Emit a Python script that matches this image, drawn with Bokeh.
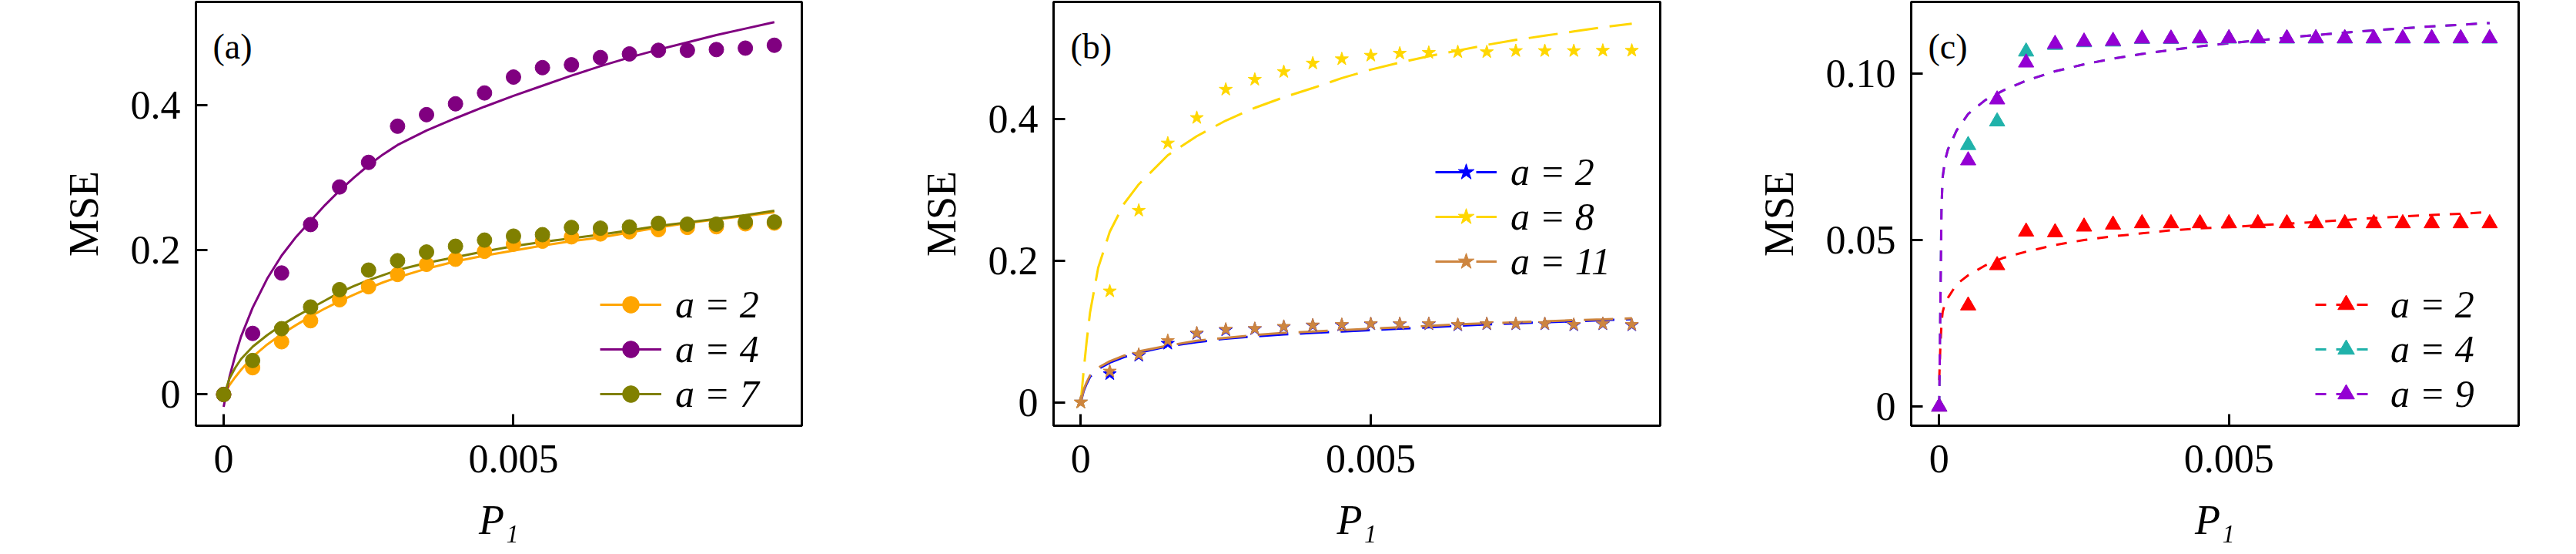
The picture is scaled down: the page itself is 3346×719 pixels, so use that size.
from bokeh.plotting import figure
from bokeh.layouts import row
from bokeh.models import Range1d, FixedTicker, Legend, LegendItem, Label
from bokeh.embed import file_html
from bokeh.resources import INLINE

SERIF = "Liberation Serif"

# ---------------- data ----------------
P1 = [0, 0.0005, 0.001, 0.0015, 0.002, 0.0025, 0.003, 0.0035, 0.004, 0.0045,
      0.005, 0.0055, 0.006, 0.0065, 0.007, 0.0075, 0.008, 0.0085, 0.009, 0.0095]

# panel (a) simulated points
a_mse_a2 = [0, 0.037, 0.0729, 0.102, 0.131, 0.149, 0.166, 0.180, 0.187, 0.198,
            0.208, 0.212, 0.218, 0.222, 0.225, 0.228, 0.231, 0.232, 0.236, 0.237]
a_mse_a4 = [0, 0.0845, 0.168, 0.235, 0.287, 0.321, 0.371, 0.387, 0.402, 0.417,
            0.439, 0.452, 0.456, 0.466, 0.471, 0.476, 0.476, 0.477, 0.479, 0.483]
a_mse_a7 = [0, 0.047, 0.091, 0.121, 0.145, 0.172, 0.185, 0.197, 0.205, 0.2135,
            0.219, 0.221, 0.231, 0.230, 0.2317, 0.2367, 0.2355, 0.2355, 0.2386, 0.2386]
# panel (a) fitted curves
a_fit_x = [0, 0.0001, 0.0002, 0.0003, 0.0005, 0.00075, 0.001, 0.00125, 0.0015, 0.00175,
           0.002, 0.00225, 0.0025, 0.00275, 0.003, 0.0035, 0.004, 0.0045, 0.005, 0.0055,
           0.006, 0.0065, 0.007, 0.0075, 0.008, 0.0085, 0.009, 0.0095]
a_fit_a2 = [-0.003, 0.013, 0.024, 0.034, 0.052, 0.069, 0.0835, 0.096, 0.108, 0.119,
            0.129, 0.138, 0.147, 0.155, 0.162, 0.174, 0.184, 0.192, 0.199, 0.206,
            0.212, 0.217, 0.224, 0.231, 0.237, 0.242, 0.247, 0.252]
a_fit_a4 = [-0.017, 0.024, 0.054, 0.080, 0.120, 0.160, 0.192, 0.218, 0.240, 0.262,
            0.282, 0.300, 0.317, 0.332, 0.345, 0.365, 0.382, 0.398, 0.413, 0.427,
            0.441, 0.454, 0.466, 0.477, 0.487, 0.497, 0.506, 0.515]
a_fit_a7 = [-0.003, 0.022, 0.037, 0.049, 0.066, 0.082, 0.096, 0.108, 0.119, 0.130,
            0.141, 0.150, 0.158, 0.165, 0.172, 0.182, 0.190, 0.198, 0.205, 0.211,
            0.216, 0.221, 0.227, 0.233, 0.238, 0.243, 0.248, 0.254]

# panel (b) simulated points
b_mse_a2 = [0, 0.040, 0.066, 0.083, 0.097, 0.102, 0.1035, 0.1065, 0.1085, 0.109,
            0.1105, 0.1105, 0.1105, 0.109, 0.1105, 0.1105, 0.1105, 0.109, 0.1105, 0.109]
b_mse_a8 = [0, 0.157, 0.271, 0.366, 0.402, 0.442, 0.456, 0.467, 0.479, 0.485,
            0.490, 0.493, 0.494, 0.495, 0.495, 0.4966, 0.4966, 0.4966, 0.497, 0.497]
b_mse_a11 = [0, 0.0438, 0.0675, 0.087, 0.0978, 0.103, 0.104, 0.107, 0.109, 0.1097,
             0.111, 0.111, 0.111, 0.1097, 0.111, 0.111, 0.111, 0.1097, 0.111, 0.1097]
# panel (b) fitted curves
b_fit_x = [0, 0.00005, 0.0001, 0.00016, 0.0003, 0.0005, 0.00075, 0.001, 0.0015, 0.002,
           0.0025, 0.003, 0.0035, 0.004, 0.0045, 0.005, 0.0055, 0.006, 0.0065, 0.007,
           0.0075, 0.008, 0.0085, 0.009, 0.0095]
b_fit_a2 = [0, 0.016, 0.026, 0.036, 0.047, 0.056, 0.064, 0.070, 0.079, 0.085,
            0.090, 0.093, 0.096, 0.098, 0.100, 0.102, 0.104, 0.106, 0.108, 0.110,
            0.1115, 0.113, 0.1145, 0.116, 0.1175]
b_fit_a8 = [0, 0.045, 0.085, 0.127, 0.190, 0.241, 0.281, 0.308, 0.349, 0.376,
            0.398, 0.416, 0.431, 0.444, 0.458, 0.470, 0.480, 0.489, 0.497, 0.505,
            0.512, 0.518, 0.524, 0.530, 0.535]
b_fit_a11 = [0, 0.018, 0.028, 0.038, 0.049, 0.058, 0.066, 0.072, 0.080, 0.087,
             0.091, 0.095, 0.098, 0.100, 0.102, 0.104, 0.106, 0.108, 0.110, 0.1116,
             0.113, 0.1145, 0.116, 0.1172, 0.1187]

# panel (c) simulated points
c_mse_a2 = [0, 0.0304, 0.0425, 0.0526, 0.0524, 0.0541, 0.0547, 0.0551, 0.0551, 0.0551,
            0.0551, 0.0551, 0.0551, 0.0551, 0.0551, 0.0551, 0.0551, 0.0551, 0.0551, 0.0551]
c_mse_a4 = [0, 0.0786, 0.0857, 0.1067, 0.1087, 0.1095, 0.1097, 0.1105, 0.1105, 0.1106,
            0.1106, 0.1106, 0.1106, 0.1106, 0.1106, 0.1106, 0.1106, 0.1106, 0.1106, 0.1106]
c_mse_a9 = [0, 0.074, 0.0923, 0.1034, 0.109, 0.1097, 0.1099, 0.1106, 0.1106, 0.1107,
            0.1107, 0.1107, 0.1107, 0.1107, 0.1107, 0.1107, 0.1107, 0.1107, 0.1107, 0.1107]
# panel (c) fitted curves
c_fit_x = [0, 0.00002, 0.00004, 0.00006, 0.0001, 0.00015, 0.0003, 0.0005, 0.0008, 0.0011,
           0.0015, 0.002, 0.0025, 0.003, 0.0035, 0.004, 0.0045, 0.005, 0.0055, 0.006,
           0.0065, 0.007, 0.0075, 0.008, 0.0085, 0.009, 0.0095]
c_fit_a2 = [0.008, 0.018, 0.025, 0.0285, 0.031, 0.0327, 0.0368, 0.0395, 0.0425, 0.0447,
            0.0466, 0.0486, 0.0501, 0.0512, 0.0521, 0.0530, 0.0536, 0.0540, 0.0545, 0.0550,
            0.0555, 0.0561, 0.0567, 0.0572, 0.0576, 0.0580, 0.0585]
c_fit_a4 = [0.0, 0.030, 0.060, 0.069, 0.074, 0.0773, 0.083, 0.088, 0.0922, 0.095,
            0.098, 0.1008, 0.1029, 0.1046, 0.106, 0.1072, 0.1083, 0.1092, 0.1101, 0.1109,
            0.1117, 0.1124, 0.1131, 0.1137, 0.1143, 0.1148, 0.1153]
c_fit_a9 = [0.0, 0.030, 0.060, 0.069, 0.074, 0.0773, 0.083, 0.088, 0.0922, 0.095,
            0.098, 0.1008, 0.1029, 0.1046, 0.106, 0.1072, 0.1083, 0.1092, 0.1101, 0.1109,
            0.1117, 0.1124, 0.1131, 0.1137, 0.1143, 0.1148, 0.1153]

x_ticks = [0, 0.005]
x_tick_labels = ["0", "0.005"]
ya_ticks = [0, 0.2, 0.4]
ya_tick_labels = ["0", "0.2", "0.4"]
yc_ticks = [0, 0.05, 0.1]
yc_tick_labels = ["0", "0.05", "0.10"]


def make_fig(xr, yr, yticks, ylabels, mbl, mbr, fw, tag):
    p = figure(frame_width=fw, frame_height=550,
               x_range=Range1d(*xr), y_range=Range1d(*yr),
               output_backend="svg", toolbar_location=None,
               min_border_left=mbl, min_border_right=mbr,
               min_border_top=2, min_border_bottom=148)
    p.grid.visible = False
    p.outline_line_color = "black"
    p.outline_line_width = 3
    p.outline_line_alpha = 1
    p.background_fill_color = "white"
    p.border_fill_color = "white"
    for ax in (p.xaxis[0], p.yaxis[0]):
        ax.major_tick_in = 15
        ax.major_tick_out = 0
        ax.minor_tick_in = 0
        ax.minor_tick_out = 0
        ax.axis_line_color = "black"
        ax.axis_line_width = 3
        ax.major_tick_line_width = 3
        ax.major_label_text_font = SERIF
        ax.major_label_text_font_size = "52px"
        ax.major_label_text_color = "black"
        ax.axis_label_text_font = SERIF
        ax.axis_label_text_font_size = "54px"
        ax.axis_label_text_color = "black"
    p.xaxis.ticker = FixedTicker(ticks=x_ticks)
    p.xaxis.major_label_overrides = dict(zip(x_ticks, x_tick_labels))
    p.yaxis.ticker = FixedTicker(ticks=yticks)
    p.yaxis.major_label_overrides = dict(zip(yticks, ylabels))
    p.xaxis.axis_label = "P₁"
    p.xaxis.axis_label_text_font_style = "italic"
    p.xaxis.major_label_standoff = 25
    p.xaxis.axis_label_standoff = 29
    p.yaxis.axis_label = "MSE"
    p.yaxis.axis_label_text_font_style = "normal"
    p.yaxis.major_label_standoff = 20
    p.yaxis.axis_label_standoff = 28
    p.add_layout(Label(x=22, y=492, x_units="screen", y_units="screen", text=tag,
                       text_font=SERIF, text_font_size="46px", text_baseline="alphabetic",
                       text_color="black"))
    return p


def add_legend(p, items, loc):
    leg = Legend(items=items, location=loc, glyph_width=80, glyph_height=54,
                 label_height=54, spacing=0, padding=0, margin=0, label_standoff=18,
                 border_line_alpha=0, background_fill_alpha=0,
                 label_text_font=SERIF, label_text_font_size="50px",
                 label_text_font_style="italic", label_text_color="black")
    p.add_layout(leg)


# ---------------- panel (a) ----------------
pa = make_fig((-0.000478, 0.009974), (-0.0432, 0.5429), ya_ticks, ya_tick_labels, 254, 70, 787, "(a)")
cols_a = ["#FFA500", "#800080", "#808000"]
fits_a = [a_fit_a2, a_fit_a4, a_fit_a7]
pts_a = [a_mse_a2, a_mse_a4, a_mse_a7]
labels_a = ["a = 2", "a = 4", "a = 7"]
lines_a = [pa.line(a_fit_x, f, line_color=c, line_width=3) for f, c in zip(fits_a, cols_a)]
dots_a = [pa.scatter(P1, y, marker="circle", size=19, fill_color=c, line_color=c)
          for y, c in zip(pts_a, cols_a)]
add_legend(pa, [LegendItem(label=l, renderers=[ln, d]) for l, ln, d in zip(labels_a, lines_a, dots_a)], (525, 12))

# ---------------- panel (b) ----------------
pb = make_fig((-0.000469, 0.00999), (-0.0331, 0.5657), ya_ticks, ya_tick_labels, 257, 70, 788, "(b)")
cols_b = ["#0000FF", "#FFD700", "#CD853F"]
fits_b = [b_fit_a2, b_fit_a8, b_fit_a11]
pts_b = [b_mse_a2, b_mse_a8, b_mse_a11]
labels_b = ["a = 2", "a = 8", "a = 11"]
lines_b = [pb.line(b_fit_x, f, line_color=c, line_width=3, line_dash="38 15") for f, c in zip(fits_b, cols_b)]
dots_b = [pb.scatter(P1, y, marker="star", size=18, fill_color=c, line_color=c)
          for y, c in zip(pts_b, cols_b)]
add_legend(pb, [LegendItem(label=l, renderers=[ln, d]) for l, ln, d in zip(labels_b, lines_b, dots_b)], (496, 184))

# ---------------- panel (c) ----------------
pc = make_fig((-0.000483, 0.0100), (-0.0057, 0.12164), yc_ticks, yc_tick_labels, 256, 55, 789, "(c)")
cols_c = ["#FF0000", "#20B2AA", "#9400D3"]
fits_c = [c_fit_a2, c_fit_a4, c_fit_a9]
pts_c = [c_mse_a2, c_mse_a4, c_mse_a9]
labels_c = ["a = 2", "a = 4", "a = 9"]
lines_c = [pc.line(c_fit_x, f, line_color=c, line_width=3, line_dash="14 13") for f, c in zip(fits_c, cols_c)]
dots_c = [pc.scatter(P1, y, marker="triangle", size=20, fill_color=c, line_color=c)
          for y, c in zip(pts_c, cols_c)]
add_legend(pc, [LegendItem(label=l, renderers=[ln, d]) for l, ln, d in zip(labels_c, lines_c, dots_c)], (525, 12))

layout = row(pa, pb, pc)
open("out.html", "w").write(file_html(layout, INLINE))
